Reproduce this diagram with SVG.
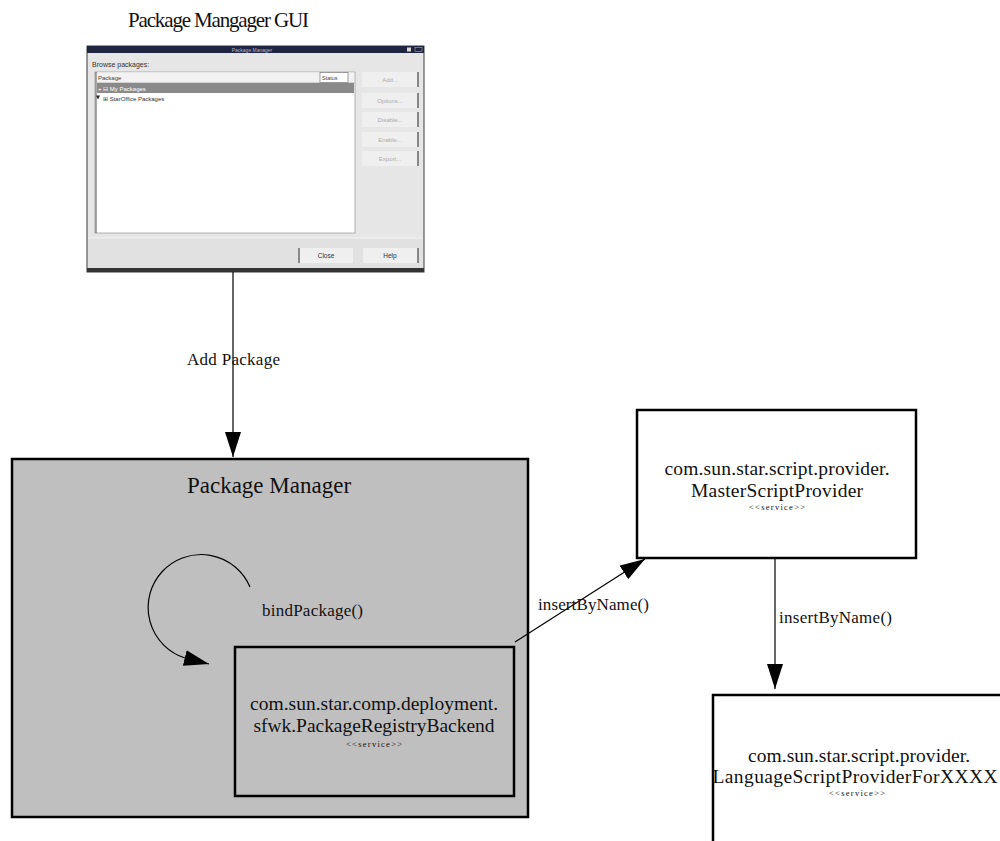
<svg xmlns="http://www.w3.org/2000/svg" width="1000" height="841" viewBox="0 0 1000 841">
  <defs>
    <marker id="arrow" markerUnits="userSpaceOnUse" markerWidth="25" markerHeight="16" viewBox="0 0 25 16" refX="25" refY="8" orient="auto">
      <path d="M0,0 L25,8 L0,16 z" fill="#000"/>
    </marker>
    <style>
      .serif { font-family: "Liberation Serif", "Times New Roman", serif; fill: #111; }
      .ui { font-family: "Liberation Sans", Arial, sans-serif; }
      .box { stroke: #000; stroke-width: 2.5; }
      .name { font-size: 19.5px; text-anchor: middle; }
      .stereo { font-size: 8.5px; text-anchor: middle; }
      .label { font-size: 17px; }
      .edge { fill: none; stroke: #000; stroke-width: 1.2; }
      .btn { fill: #efefef; }
      .btnoff { font-size: 6px; fill: #ababab; text-anchor: middle; }
      .btnon { font-size: 6.5px; fill: #333; text-anchor: middle; }
    </style>
  </defs>

  <rect width="1000" height="841" fill="#fff"/>

  <!-- GUI window with its caption -->
  <g id="gui">
    <text class="serif" x="128" y="27" font-size="21" textLength="181" lengthAdjust="spacing">Package Mangager GUI</text>
    <rect x="87" y="46" width="337" height="226" fill="#e6e6e6" stroke="#3a3a3a" stroke-width="1"/>
    <!-- title bar -->
    <rect x="87" y="46" width="337" height="7" fill="#1f2540"/>
    <text class="ui" x="252" y="51.5" font-size="5" fill="#b8b8c4" text-anchor="middle">Package Manager</text>
    <rect x="407" y="47.5" width="4" height="4" fill="#d8d8d8"/>
    <rect x="415" y="47.5" width="7" height="4" fill="none" stroke="#aaa" stroke-width="0.6"/>
    <text class="ui" x="92" y="67" font-size="7" fill="#333">Browse packages:</text>
    <!-- package list -->
    <rect x="95" y="72" width="260" height="161" fill="#fff" stroke="#a0a0a0" stroke-width="0.8"/>
    <line x1="96" y1="72" x2="96" y2="233" stroke="#555" stroke-width="1"/>
    <rect x="97" y="72.5" width="257" height="10" fill="#f2f2f2"/>
    <line x1="96" y1="82.5" x2="355" y2="82.5" stroke="#bbb" stroke-width="0.6"/>
    <text class="ui" x="98" y="80" font-size="6" fill="#444">Package</text>
    <rect x="320" y="72.5" width="28" height="10" fill="#fff" stroke="#777" stroke-width="0.7"/>
    <text class="ui" x="322" y="80" font-size="5.5" fill="#444">Status</text>
    <rect x="97" y="83" width="257" height="10" fill="#8a8a8a"/>
    <text class="ui" x="98" y="90.5" font-size="6" fill="#fff">+ ⊟ My Packages</text>
    <path d="M96,95.5 L100,95.5 L98,99.5 z" fill="#222"/>
    <text class="ui" x="103" y="100.5" font-size="6" fill="#333">⊞ StarOffice Packages</text>
    <!-- side buttons -->
    <rect class="btn" x="362" y="72" width="56" height="15"/>
    <line x1="418" y1="72" x2="418" y2="87" stroke="#444" stroke-width="1.2"/>
    <text class="ui btnoff" x="390" y="82">Add...</text>
    <rect class="btn" x="362" y="93" width="56" height="15"/>
    <line x1="418" y1="93" x2="418" y2="108" stroke="#444" stroke-width="1.2"/>
    <text class="ui btnoff" x="390" y="103">Options...</text>
    <rect class="btn" x="362" y="112" width="56" height="15"/>
    <line x1="418" y1="112" x2="418" y2="127" stroke="#444" stroke-width="1.2"/>
    <text class="ui btnoff" x="390" y="122">Disable...</text>
    <rect class="btn" x="362" y="132" width="56" height="15"/>
    <line x1="418" y1="132" x2="418" y2="147" stroke="#444" stroke-width="1.2"/>
    <text class="ui btnoff" x="390" y="142">Enable...</text>
    <rect class="btn" x="362" y="151" width="56" height="15"/>
    <line x1="418" y1="151" x2="418" y2="166" stroke="#444" stroke-width="1.2"/>
    <text class="ui btnoff" x="390" y="161">Export...</text>
    <!-- bottom bar -->
    <rect x="88" y="238" width="335" height="30" fill="#e1e1e1"/>
    <line x1="88" y1="238" x2="423" y2="238" stroke="#f4f4f4" stroke-width="1"/>
    <rect class="btn" x="298" y="248" width="55" height="15"/>
    <line x1="299" y1="248" x2="299" y2="263" stroke="#444" stroke-width="1.2"/>
    <text class="ui btnon" x="326" y="258">Close</text>
    <rect class="btn" x="363" y="248" width="55" height="15"/>
    <line x1="418" y1="248" x2="418" y2="263" stroke="#444" stroke-width="1.2"/>
    <text class="ui btnon" x="390" y="258">Help</text>
    <rect x="87" y="268" width="337" height="4" fill="#333"/>
  </g>

  <!-- Package Manager container -->
  <g id="package-manager">
    <rect class="box" x="12" y="459" width="516" height="358" fill="#bfbfbf"/>
    <text class="serif" x="269" y="493" font-size="23" text-anchor="middle">Package Manager</text>
  </g>

  <!-- Registry backend inside the container -->
  <g id="registry-backend">
    <rect class="box" x="235" y="647" width="279" height="149" fill="#bfbfbf"/>
    <text class="serif name" x="374" y="710" textLength="248" lengthAdjust="spacing">com.sun.star.comp.deployment.</text>
    <text class="serif name" x="374" y="732" textLength="241" lengthAdjust="spacing">sfwk.PackageRegistryBackend</text>
    <text class="serif stereo" x="374" y="747" textLength="56" lengthAdjust="spacing">&lt;&lt;service&gt;&gt;</text>
  </g>

  <!-- Master script provider -->
  <g id="master-provider">
    <rect class="box" x="637" y="410" width="279" height="148" fill="#fff" stroke-width="3"/>
    <text class="serif name" x="777" y="475" textLength="225" lengthAdjust="spacing">com.sun.star.script.provider.</text>
    <text class="serif name" x="777" y="497" textLength="172" lengthAdjust="spacing">MasterScriptProvider</text>
    <text class="serif stereo" x="777" y="510" textLength="56" lengthAdjust="spacing">&lt;&lt;service&gt;&gt;</text>
  </g>

  <!-- Language script provider -->
  <g id="language-provider">
    <rect class="box" x="713" y="695" width="300" height="160" fill="#fff" stroke-width="3"/>
    <text class="serif name" x="859" y="762" textLength="222" lengthAdjust="spacing">com.sun.star.script.provider.</text>
    <text class="serif name" x="855" y="783" textLength="285" lengthAdjust="spacing">LanguageScriptProviderForXXXX</text>
    <text class="serif stereo" x="857" y="796" textLength="56" lengthAdjust="spacing">&lt;&lt;service&gt;&gt;</text>
  </g>

  <!-- Connectors and their labels -->
  <g id="connectors">
    <path class="edge" d="M233,272 L233,457" marker-end="url(#arrow)"/>
    <text class="serif label" x="187" y="365" textLength="93" lengthAdjust="spacing">Add Package</text>

    <path class="edge" d="M250,587 A53,53 0 1 0 185,658 L209,664" stroke-width="1" marker-end="url(#arrow)"/>
    <text class="serif label" x="262" y="616" textLength="101" lengthAdjust="spacing">bindPackage()</text>

    <path class="edge" d="M515,642 L645,559" stroke-width="1" marker-end="url(#arrow)"/>
    <text class="serif label" x="538" y="610" textLength="111" lengthAdjust="spacing">insertByName()</text>

    <path class="edge" d="M775,558 L775,689" marker-end="url(#arrow)"/>
    <text class="serif label" x="779" y="623" textLength="113" lengthAdjust="spacing">insertByName()</text>
  </g>
</svg>
